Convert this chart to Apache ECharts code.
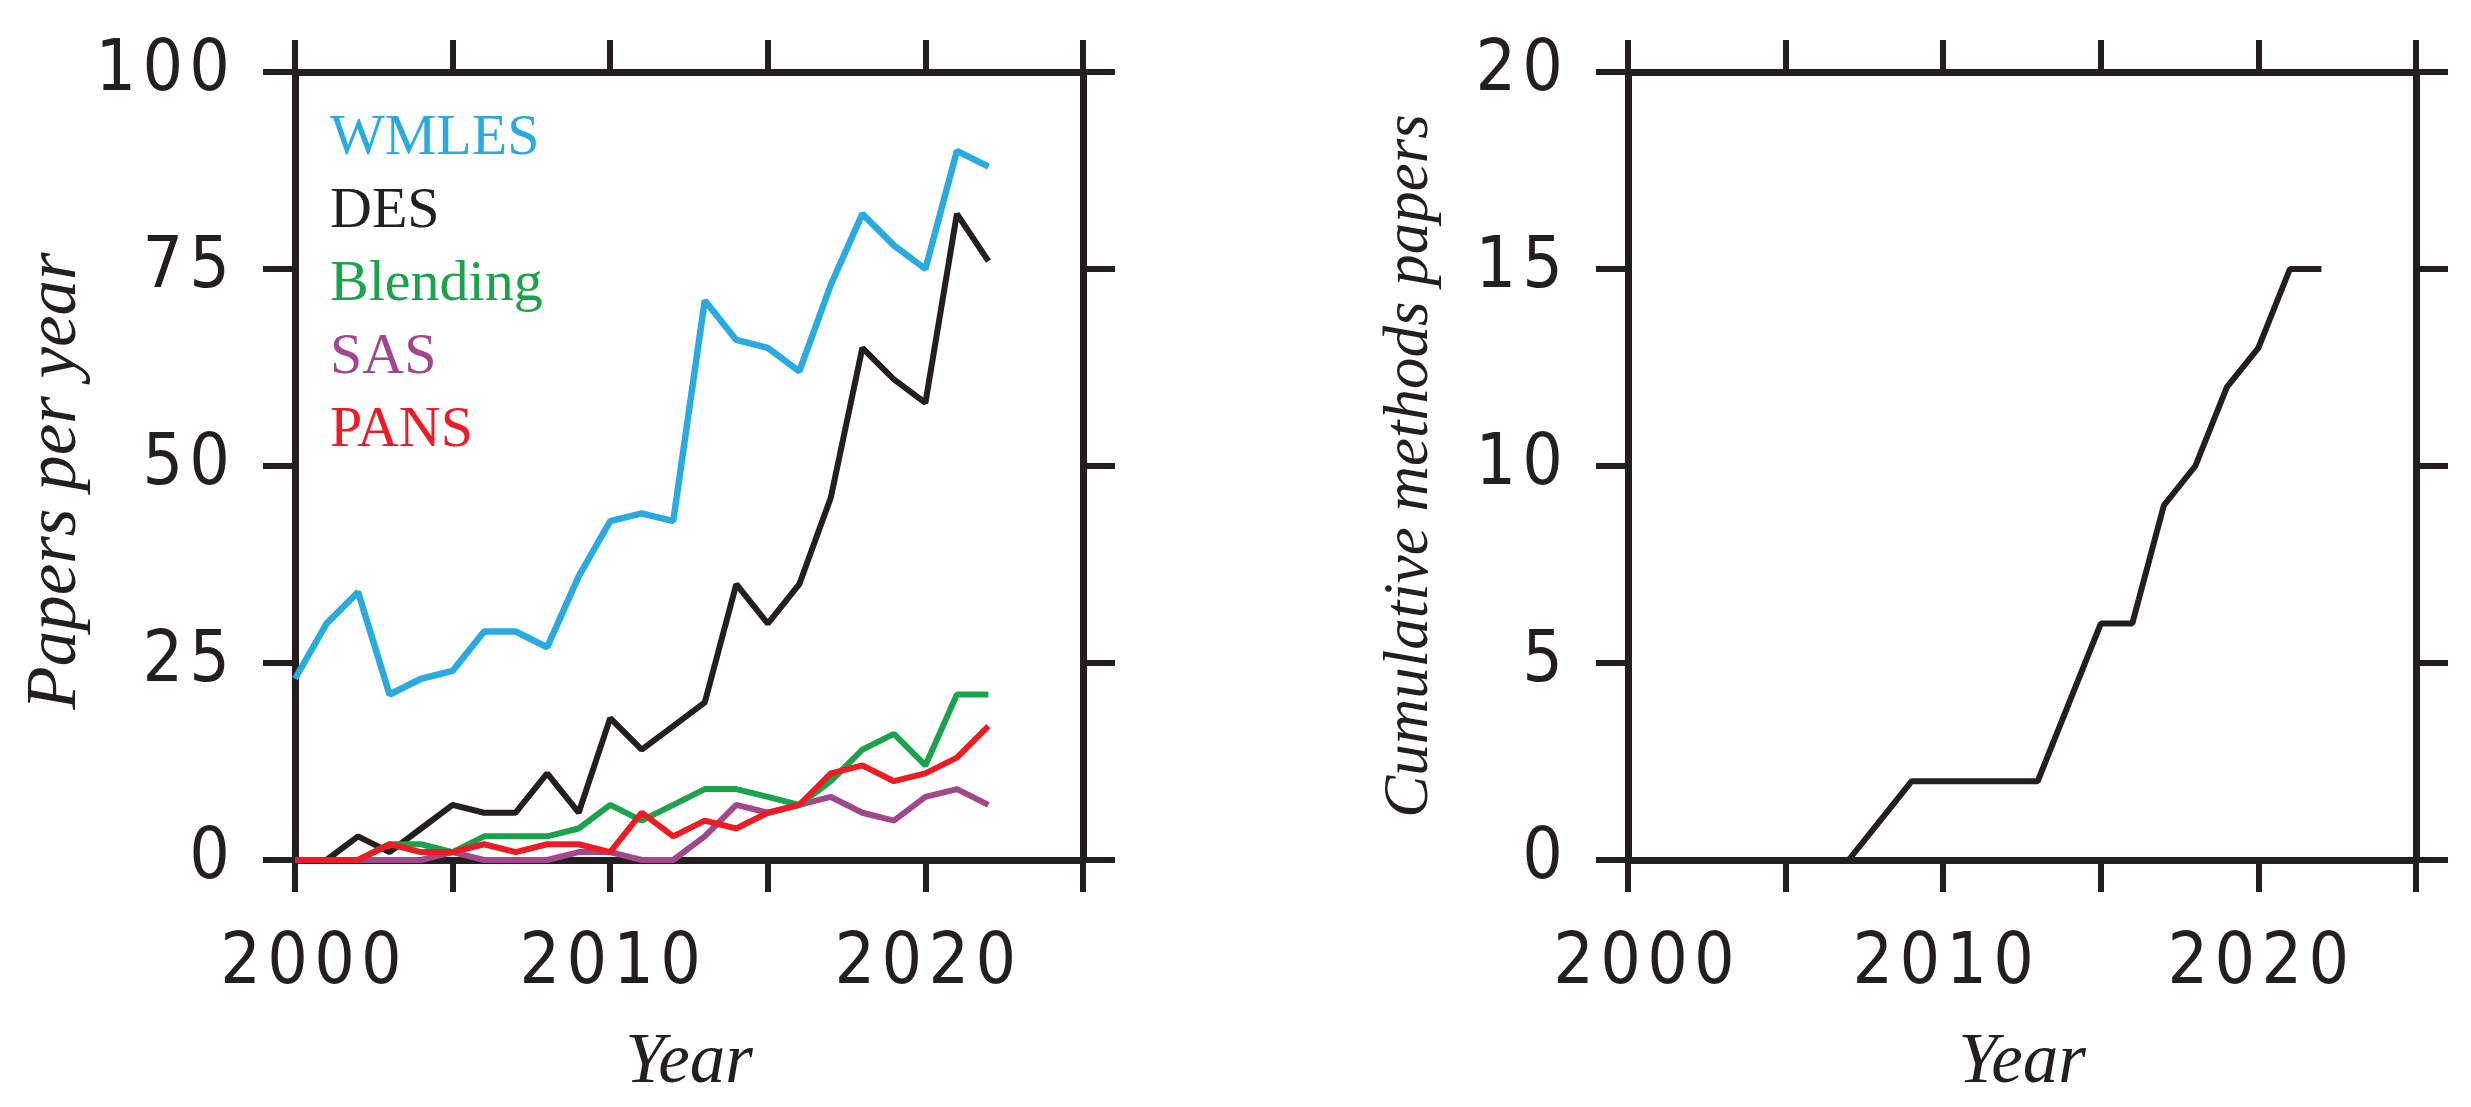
<!DOCTYPE html>
<html>
<head>
<meta charset="utf-8">
<script src="https://cdn.jsdelivr.net/npm/echarts@6/dist/echarts.min.js"></script>
<style>
  html, body { margin: 0; padding: 0; background: #fff; }
  #chart { width: 2471px; height: 1107px; }
</style>
</head>
<body>
<div id="chart"></div>
<script>
// 年份與各方法每年論文數
const years = [2000, 2001, 2002, 2003, 2004, 2005, 2006, 2007, 2008, 2009, 2010, 2011,
  2012, 2013, 2014, 2015, 2016, 2017, 2018, 2019, 2020, 2021, 2022];
const wmles    = [23, 30, 34, 21, 23, 24, 29, 29, 27, 36, 43, 44, 43, 71, 66, 65, 62, 73, 82, 78, 75, 90, 88];
const des      = [0, 0, 3, 1, 4, 7, 6, 6, 11, 6, 18, 14, 17, 20, 35, 30, 35, 46, 65, 61, 58, 82, 76];
const blending = [0, 0, 0, 2, 2, 1, 3, 3, 3, 4, 7, 5, 7, 9, 9, 8, 7, 10, 14, 16, 12, 21, 21];
const sas      = [0, 0, 0, 0, 0, 1, 0, 0, 0, 1, 1, 0, 0, 3, 7, 6, 7, 8, 6, 5, 8, 9, 7];
const pans     = [0, 0, 0, 2, 1, 1, 2, 1, 2, 2, 1, 6, 3, 5, 4, 6, 7, 11, 12, 10, 11, 13, 17];
// 累計方法論文數
const cumulative = [0, 0, 0, 0, 0, 0, 0, 0, 1, 2, 2, 2, 2, 2, 4, 6, 6, 9, 10, 12, 13, 15, 15];

const xTickLabels = ['2000', '2010', '2020'];
const legendNames = ['WMLES', 'DES', 'Blending', 'SAS', 'PANS'];

const INK = '#231f20';
const COLORS = { WMLES: '#29abe2', DES: '#231f20', Blending: '#1ba34b', SAS: '#a2478c', PANS: '#ed1c24' };
const SERIF = "'Liberation Serif', 'DejaVu Serif', serif";
const TICKFONT = "'DejaVu Sans Condensed', 'Liberation Sans', sans-serif";

const pairs = (vals) => years.map((y, i) => [y, vals[i]]);
// 原圖刻度字距較寬:字元間插入 hair space
const spaced = (s) => String(s).split('').join('\u200A');

const axisLine = { show: true, onZero: false, lineStyle: { color: INK, width: 7 } };
const axisTick = { show: true, inside: false, length: 32, lineStyle: { color: INK, width: 6 } };
const nameStyle = (size, pad) => ({ fontFamily: SERIF, fontStyle: 'italic', fontSize: size, color: INK,
  verticalAlign: 'middle', padding: pad || 0 });
const tickText = { fontFamily: TICKFONT, fontSize: 71, color: INK };

function xAxes(gi) {
  const base = { gridIndex: gi, type: 'value', min: 2000, max: 2025, interval: 5,
    axisLine, axisTick, splitLine: { show: false } };
  return [
    { ...base, position: 'bottom', name: 'Year', nameLocation: 'middle', nameGap: 203,
      nameTextStyle: nameStyle(71),
      axisLabel: { show: true, margin: 105, verticalAlign: 'middle', ...tickText,
        // 2000 在原圖稍往右偏(前置 en space)
        formatter: (v) => {
          const s = String(v);
          if (!xTickLabels.includes(s)) return '';
          return s === xTickLabels[0] ? '\u2002' + spaced(s) : spaced(s);
        } } },
    { ...base, position: 'top', axisLabel: { show: false } },
  ];
}

function yAxes(gi, max, interval, name, nameGap, nameSize, namePad) {
  const base = { gridIndex: gi, type: 'value', min: 0, max, interval,
    axisLine, axisTick, splitLine: { show: false } };
  return [
    { ...base, position: 'left', name, nameLocation: 'middle', nameGap,
      nameTextStyle: nameStyle(nameSize, namePad),
      axisLabel: { show: true, margin: 65, ...tickText, formatter: (v) => spaced(v) } },
    { ...base, position: 'right', axisLabel: { show: false } },
  ];
}

// 畫線順序:PANS 最上層
const leftSeries = [
  ['WMLES', wmles, 6.5], ['DES', des, 6], ['SAS', sas, 6], ['Blending', blending, 6], ['PANS', pans, 6],
].map(([name, vals, w]) => ({
  name, type: 'line', xAxisIndex: 0, yAxisIndex: 0, data: pairs(vals),
  symbol: 'none', lineStyle: { color: COLORS[name], width: w }, itemStyle: { color: COLORS[name] },
}));

const option = {
  animation: false,
  backgroundColor: '#fff',
  grid: [
    { left: 295, top: 72, width: 788, height: 788, containLabel: false },
    { left: 1628, top: 72, width: 788, height: 788, containLabel: false },
  ],
  xAxis: [...xAxes(0), ...xAxes(1)],
  yAxis: [
    ...yAxes(0, 100, 25, 'Papers per year', 220, 71, [0, 30, 0, 0]),
    ...yAxes(1, 20, 5, 'Cumulative methods papers', 218, 63),
  ],
  legend: {
    left: 325, top: 102, orient: 'vertical', icon: 'none', itemWidth: 0, itemHeight: 10, itemGap: 0,
    padding: 0, selectedMode: false,
    textStyle: { fontFamily: SERIF, fontSize: 58, lineHeight: 73 },
    data: legendNames.map((n) => ({ name: n, textStyle: { color: COLORS[n] } })),
  },
  series: [
    ...leftSeries,
    { name: 'Cumulative', type: 'line', xAxisIndex: 2, yAxisIndex: 2, data: pairs(cumulative),
      symbol: 'none', lineStyle: { color: INK, width: 6 }, itemStyle: { color: INK } },
  ],
};

const chart = echarts.init(document.getElementById('chart'), null, { renderer: 'canvas' });
chart.setOption(option);
</script>
</body>
</html>
